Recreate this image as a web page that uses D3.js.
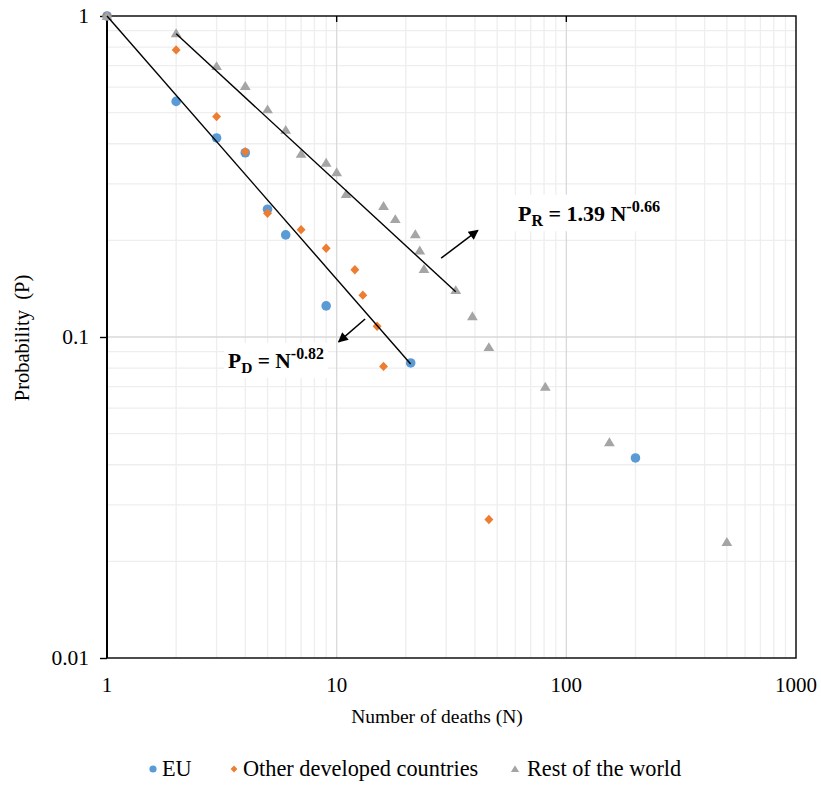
<!DOCTYPE html>
<html>
<head>
  <meta charset="utf-8">
  <title></title>
  <style>
    body,html{
      margin:0;
      padding:0;
      background:#fff;
    }
    #container{ width:821px; height:785px; }
    svg text{ font-family: "Liberation Serif", "Times New Roman", serif; }
  </style>
</head>
<body>
  <div id="container"></div>
  <script src="https://cdn.jsdelivr.net/npm/d3@7"></script>
  <script type="text/javascript">

    // data
    var euN = [1, 2, 3, 4, 5, 6, 9, 21, 200];
    var euP = [1, 0.542, 0.417, 0.375, 0.25, 0.208, 0.125, 0.083, 0.042];

    var otherN = [1, 2, 3, 4, 5, 7, 9, 12, 13, 15, 16, 46];
    var otherP = [1, 0.784, 0.486, 0.378, 0.243, 0.216, 0.189, 0.162, 0.135, 0.108, 0.081, 0.027];

    var restN = [1, 2, 3, 4, 5, 6, 7, 9, 10, 11, 16, 18, 22, 23, 24, 33, 39, 46, 81, 154, 500];
    var restP = [1, 0.884, 0.698, 0.605, 0.512, 0.442, 0.372, 0.349, 0.326, 0.279, 0.256, 0.233,
                 0.209, 0.186, 0.163, 0.140, 0.116, 0.093, 0.070, 0.047, 0.023];

    // trendline end points  (P_D = N^-0.82 , P_R = 1.39 N^-0.66)
    var trendD = [[1, 1], [21, 0.0824]];
    var trendR = [[2, 0.880], [33, 0.1383]];

    var xTicks = [1, 10, 100, 1000];
    var xTickLabels = ['1', '10', '100', '1000'];
    var yTicks = [1, 0.1, 0.01];
    var yTickLabels = ['1', '0.1', '0.01'];

    var seriesNames = ['EU', 'Other developed countries', 'Rest of the world'];
    var seriesColors = ['#5b9bd5', '#ed7d31', '#a5a5a5'];

    var W = 821, H = 785;
    var svg = d3.select('#container').append('svg').attr('width', W).attr('height', H)
      .attr('font-family', '"Liberation Serif", serif');

    var x = d3.scaleLog().domain([1, 1000]).range([107, 796]);
    var y = d3.scaleLog().domain([0.01, 1]).range([658, 16]);

    // minor grid
    var minorX = [], minorY = [];
    [1, 10, 100].forEach(function(d){ for(var k = 2; k < 10; k++) minorX.push(d*k); });
    [0.01, 0.1].forEach(function(d){ for(var k = 2; k < 10; k++) minorY.push(d*k); });

    var grid = svg.append('g');
    grid.selectAll('.mx').data(minorX).enter().append('line')
      .attr('x1', function(d){ return x(d); }).attr('x2', function(d){ return x(d); })
      .attr('y1', y(1)).attr('y2', y(0.01))
      .attr('stroke', '#eeeeee').attr('stroke-width', 1.3);
    grid.selectAll('.my').data(minorY).enter().append('line')
      .attr('y1', function(d){ return y(d); }).attr('y2', function(d){ return y(d); })
      .attr('x1', x(1)).attr('x2', x(1000))
      .attr('stroke', '#eeeeee').attr('stroke-width', 1.3);
    grid.selectAll('.Mx').data([10, 100]).enter().append('line')
      .attr('x1', function(d){ return x(d); }).attr('x2', function(d){ return x(d); })
      .attr('y1', y(1)).attr('y2', y(0.01))
      .attr('stroke', '#d9d9d9').attr('stroke-width', 1.3);
    grid.selectAll('.My').data([0.1]).enter().append('line')
      .attr('y1', function(d){ return y(d); }).attr('y2', function(d){ return y(d); })
      .attr('x1', x(1)).attr('x2', x(1000))
      .attr('stroke', '#d9d9d9').attr('stroke-width', 1.3);

    // frame
    svg.append('rect')
      .attr('x', x(1)).attr('y', y(1))
      .attr('width', x(1000) - x(1)).attr('height', y(0.01) - y(1))
      .attr('fill', 'none').attr('stroke', '#000').attr('stroke-width', 1.4);
    svg.append('line')
      .attr('x1', x(1)).attr('x2', x(1)).attr('y1', y(1)).attr('y2', y(0.01))
      .attr('stroke', '#000').attr('stroke-width', 2);

    // y axis ticks + labels
    var yAxis = d3.axisLeft(y).tickValues(yTicks)
      .tickFormat(function(d, i){ return yTickLabels[i]; })
      .tickSizeInner(7).tickSizeOuter(0).tickPadding(11);
    var gy = svg.append('g').attr('transform', 'translate(' + x(1) + ',0)').call(yAxis);
    gy.attr('font-family', null).attr('font-size', null);
    gy.select('.domain').remove();
    gy.selectAll('line').attr('stroke', '#000').attr('stroke-width', 1.4);
    gy.selectAll('text').attr('font-size', 21.5).attr('fill', '#000');

    // x axis sits at P = 1 (top), labels low
    var gx = svg.append('g');
    gx.selectAll('line').data(xTicks.slice(1, 3)).enter().append('line')
      .attr('x1', function(d){ return x(d); }).attr('x2', function(d){ return x(d); })
      .attr('y1', y(1)).attr('y2', y(1) + 6)
      .attr('stroke', '#000').attr('stroke-width', 1.4);
    gx.selectAll('text').data(xTicks).enter().append('text')
      .attr('x', function(d){ return x(d); }).attr('y', 692)
      .attr('text-anchor', 'middle').attr('font-size', 21).attr('fill', '#000')
      .text(function(d, i){ return xTickLabels[i]; });

    // axis titles
    svg.append('text').attr('x', 437).attr('y', 723).attr('text-anchor', 'middle')
      .attr('font-size', 19.5).text('Number of deaths (N)');
    svg.append('text').attr('transform', 'translate(29,338) rotate(-90)')
      .attr('text-anchor', 'middle').attr('font-size', 20.5)
      .style('white-space', 'pre')
      .text('Probability  (P)');

    // marker shapes
    function marker(sel, kind, s){
      if(kind === 0){
        sel.append('circle').attr('r', s);
      } else if(kind === 1){
        sel.append('path').attr('d', 'M0,' + (-s) + 'L' + (s*0.95) + ',0L0,' + s + 'L' + (-s*0.95) + ',0Z');
      } else {
        sel.append('path').attr('d', 'M0,' + (-s*1.05) + 'L' + (s*1.15) + ',' + (s*0.85) + 'L' + (-s*1.15) + ',' + (s*0.85) + 'Z');
      }
    }

    var series = [
      {n: euN, p: euP},
      {n: otherN, p: otherP},
      {n: restN, p: restP}
    ];

    var sizes = [4.8, 4.7, 4.7];
    series.forEach(function(s, si){
      var pts = s.n.map(function(n, i){ return [n, s.p[i]]; });
      var g = svg.append('g').attr('fill', seriesColors[si]);
      pts.forEach(function(d){
        var m = g.append('g').attr('transform', 'translate(' + x(d[0]) + ',' + y(d[1]) + ')');
        marker(m, si, sizes[si]);
      });
    });

    // trendlines
    var line = d3.line().x(function(d){ return x(d[0]); }).y(function(d){ return y(d[1]); });
    [trendD, trendR].forEach(function(t){
      svg.append('path').attr('d', line(t))
        .attr('fill', 'none').attr('stroke', '#000').attr('stroke-width', 1.4);
    });

    // arrows
    var defs = svg.append('defs');
    defs.append('marker').attr('id', 'ah')
      .attr('viewBox', '0 0 10 10').attr('refX', 9).attr('refY', 5)
      .attr('markerWidth', 12).attr('markerHeight', 10).attr('orient', 'auto')
      .attr('markerUnits', 'userSpaceOnUse')
      .append('path').attr('d', 'M0,0L10,5L0,10Z').attr('fill', '#000');

    var arrows = [
      [[28.5, 0.176], [41.2, 0.215]],
      [[13.3, 0.1138], [10.2, 0.0966]]
    ];
    arrows.forEach(function(a){
      svg.append('line')
        .attr('x1', x(a[0][0])).attr('y1', y(a[0][1]))
        .attr('x2', x(a[1][0])).attr('y2', y(a[1][1]))
        .attr('stroke', '#000').attr('stroke-width', 1.5)
        .attr('marker-end', 'url(#ah)');
    });

    // equation labels with white background
    function eqLabel(px, py, fs, main, sub, rest, sup){
      var g = svg.append('g');
      var bg = g.append('rect').attr('fill', '#fff');
      var t = g.append('text').attr('x', px).attr('y', py)
        .attr('font-size', fs).attr('font-weight', 'bold').attr('fill', '#000')
        .style('white-space', 'pre');
      t.append('tspan').text(main);
      t.append('tspan').attr('font-size', fs*0.72).attr('dy', fs*0.24).text(sub);
      t.append('tspan').attr('dy', -fs*0.24).text(rest);
      t.append('tspan').attr('font-size', fs*0.74).attr('dy', -fs*0.42).text(sup);
      var b = t.node().getBBox();
      bg.attr('x', b.x - 4).attr('y', b.y - 2).attr('width', b.width + 8).attr('height', b.height + 4);
    }

    eqLabel(518, 221, 22, 'P', 'R', ' = 1.39 N', '-0.66');
    eqLabel(228, 368, 21.5, 'P', 'D', ' = N', '-0.82');

    // legend
    var legend = [
      {mx: 153, tx: 162},
      {mx: 234, tx: 243},
      {mx: 515, tx: 527}
    ];
    legend.forEach(function(l, i){
      var m = svg.append('g').attr('fill', seriesColors[i])
        .attr('transform', 'translate(' + l.mx + ',' + 769 + ')');
      marker(m, i, 3.6);
      svg.append('text').attr('x', l.tx).attr('y', 776)
        .attr('font-size', 22.3).attr('fill', '#000').text(seriesNames[i]);
    });

  </script>
</body>
</html>
